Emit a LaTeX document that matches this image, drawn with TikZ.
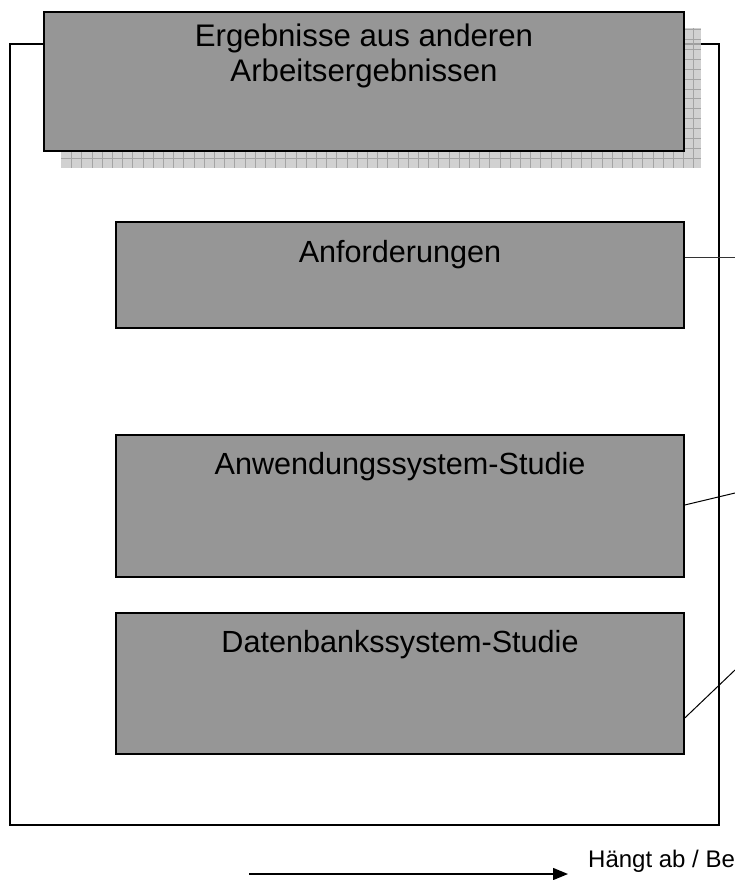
\documentclass[tikz,border=0pt]{standalone}
\usepackage{fontspec}
\setmainfont{Liberation Sans}
\usetikzlibrary{arrows.meta}
\definecolor{boxgray}{HTML}{969696}
\definecolor{shadefill}{HTML}{C6C6C6}
\definecolor{shadegrid}{HTML}{A4A4A4}
\begin{document}
\begin{tikzpicture}[x=1pt,y=-1pt,
  panel/.style={rectangle,draw=black,line width=1.5pt,fill=boxgray,inner sep=0pt},
  caption/.style={font=\fontsize{30.6}{35}\selectfont,align=center,anchor=base,inner sep=0pt},
  frameline/.style={draw=black,line width=1.6pt},
  link/.style={draw=black,line width=1pt},
  legendtext/.style={font=\fontsize{24}{28}\selectfont,anchor=base west,inner sep=0pt}]
\useasboundingbox (0,0) rectangle (735,880);

% outer frame around the group
\draw[frameline] (44,44) -- (10,44) -- (10,825) -- (719,825) -- (719,44) -- (684,44);

% chequered drop shadow of the header box
\begin{scope}
  \clip (61,28) rectangle (701,168);
  \fill[shadefill,opacity=0.8] (61,28) rectangle (701,168);
  \foreach \k in {0,...,63}
    \draw[shadegrid,line width=0.8pt] ({71.5+10.2*\k},28) -- ++(0,140);
  \foreach \k in {0,...,14}
    \draw[shadegrid,line width=0.8pt] (61,{158.3-9.9*\k}) -- ++(640,0);
\end{scope}

% header box (the two-line caption is anchored on its last baseline)
\node[panel,line width=1.8pt,minimum width=640pt,minimum height=139pt] (head) at (364,81.5) {};
\node[caption,font=\fontsize{31.2}{35}\selectfont] (headtext) at (364,82) {Ergebnisse aus anderen\\Arbeitsergebnissen};

% inner boxes
\node[panel,minimum width=568pt,minimum height=106pt] (req) at (400,275) {};
\node[caption] (reqtext) at (400,262) {Anforderungen};

\node[panel,minimum width=568pt,minimum height=142pt] (app) at (400,506) {};
\node[caption] (apptext) at (400,474) {Anwendungssystem-Studie};

\node[panel,minimum width=568pt,minimum height=141pt] (dbs) at (400,683.5) {};
\node[caption] (dbstext) at (400,652) {Datenbankssystem-Studie};

% connectors leaving to the right
\coordinate (e1) at (735,257);
\coordinate (e2) at (735,493);
\coordinate (e3) at (735,670);
\draw[link,draw=black!80] (req.east |- e1) -- (e1);
\draw[link] ([yshift=1pt]app.east) -- (e2);
\draw[link] ([yshift=-34.5pt]dbs.east) -- (e3);

% legend
\coordinate (la) at (249,874);
\coordinate (lb) at (568,874);
\draw[line width=1.5pt,-{Triangle[length=15pt,width=12pt]}] (la) -- (lb);
\node[legendtext] (legend) at (588,867) {Hängt ab / Be};
\end{tikzpicture}
\end{document}
